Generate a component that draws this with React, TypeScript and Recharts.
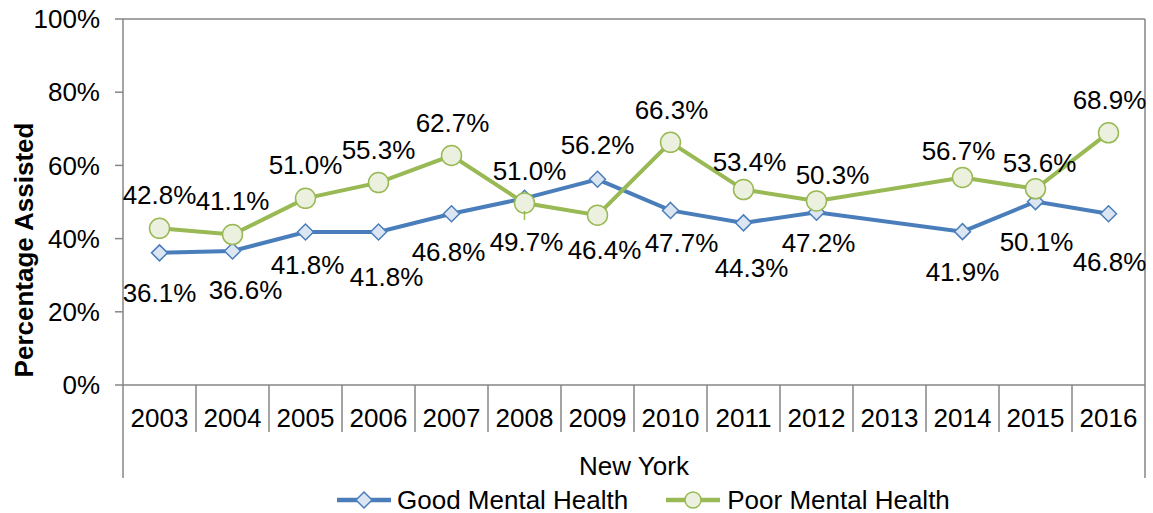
import React from "react";
import { Legend, LabelList, Line, LineChart, ReferenceLine, XAxis, YAxis } from "recharts";

const YEARS = ["2003", "2004", "2005", "2006", "2007", "2008", "2009", "2010", "2011", "2012", "2013", "2014", "2015", "2016"];
const GOOD = [36.1, 36.6, 41.8, 41.8, 46.8, 51.0, 56.2, 47.7, 44.3, 47.2, null, 41.9, 50.1, 46.8];
const POOR = [42.8, 41.1, 51.0, 55.3, 62.7, 49.7, 46.4, 66.3, 53.4, 50.3, null, 56.7, 53.6, 68.9];
const Y_TICKS = [0, 20, 40, 60, 80, 100];

// hand placed data labels (dx, dy from the point to the text middle)
const GOOD_LABEL_POS = [[0, 40], [13, 39], [2, 33], [8, 45], [-3, 38], [5, -27], [0, -34], [11, 33], [8, 45], [2, 31], [0, 0], [0, 40], [1, 40], [1, 48]];
const POOR_LABEL_POS = [[0, -33], [0, -34], [0, -33], [0, -33], [1, -33], [2, 39], [7, 35], [1, -32], [6, -28], [16, -26], [0, 0], [-4, -26], [4, -26], [1, -33]];
const POOR_LEADERS = ["2008"];

const data = YEARS.map((year, i) => ({ year, good: GOOD[i], poor: POOR[i] }));

const W = 1153;
const H = 513;
const PLOT_LEFT = 123;
const PLOT_RIGHT = 1145;
const PLOT_TOP = 19;
const PLOT_BOTTOM = 385;
const AXIS_BOTTOM = 478;
const BAND = (PLOT_RIGHT - PLOT_LEFT) / YEARS.length;

const FONT = "'Liberation Sans', Arial, sans-serif";
const AXIS = "#868686";
const BLUE = "#4A7EBB";
const BLUE_FILL = "#DCE6F2";
const GREEN = "#98B954";
const GREEN_FILL = "#EBF1DE";

function YearTick(props: any) {
  const { x, index, payload } = props;
  const left = x - BAND / 2;
  const right = x + BAND / 2;
  const last = index === YEARS.length - 1;
  return (
    <g>
      <line x1={left} x2={left} y1={PLOT_BOTTOM} y2={index === 0 ? AXIS_BOTTOM : PLOT_BOTTOM + 47} stroke={AXIS} strokeWidth={1.5} />
      {last && <line x1={right} x2={right} y1={PLOT_BOTTOM} y2={AXIS_BOTTOM} stroke={AXIS} strokeWidth={1.5} />}
      <text x={x} y={PLOT_BOTTOM + 42} textAnchor="middle" fontSize={26} fontFamily={FONT} fill="#000">
        {payload.value}
      </text>
    </g>
  );
}

function diamondDot(props: any) {
  const { cx, cy, index } = props;
  if (cx == null || cy == null) return <g key={`d${index}`} />;
  const r = 8;
  return (
    <polygon
      key={`d${index}`}
      points={`${cx},${cy - r} ${cx + r},${cy} ${cx},${cy + r} ${cx - r},${cy}`}
      fill={BLUE_FILL}
      stroke={BLUE}
      strokeWidth={1.5}
    />
  );
}

function circleDot(props: any) {
  const { cx, cy, index } = props;
  if (cx == null || cy == null) return <g key={`c${index}`} />;
  return <circle key={`c${index}`} cx={cx} cy={cy} r={10} fill={GREEN_FILL} stroke={GREEN} strokeWidth={1.5} />;
}

function makeLabel(pos: number[][], leaders: string[]) {
  return (props: any) => {
    const { x, y, value, index } = props;
    if (value == null || x == null || y == null) return null;
    const [dx, dy] = pos[index];
    const leader = leaders.includes(YEARS[index]);
    return (
      <g>
        {leader && <line x1={x} x2={x} y1={y + 8} y2={y + dy - 22} stroke={GREEN} strokeWidth={1.5} />}
        <text x={x + dx} y={y + dy + 9} textAnchor="middle" fontSize={26} fontFamily={FONT} fill="#000">
          {`${Number(value).toFixed(1)}%`}
        </text>
      </g>
    );
  };
}

function LegendIcon({ color, fill, shape }: { color: string; fill: string; shape: string }) {
  return (
    <svg width={54} height={20} style={{ display: "block" }}>
      <line x1={0} x2={54} y1={10} y2={10} stroke={color} strokeWidth={4.5} />
      {shape === "diamond" ? (
        <polygon points="27,2 35,10 27,18 19,10" fill={fill} stroke={color} strokeWidth={1.5} />
      ) : (
        <circle cx={27} cy={10} r={8} fill={fill} stroke={color} strokeWidth={1.5} />
      )}
    </svg>
  );
}

function LegendContent() {
  return (
    <div style={{ display: "flex", alignItems: "center", fontFamily: FONT, fontSize: 26, lineHeight: "30px", color: "#000", whiteSpace: "nowrap" }}>
      <LegendIcon color={BLUE} fill={BLUE_FILL} shape="diamond" />
      <span style={{ marginLeft: 6 }}>Good Mental Health</span>
      <span style={{ marginLeft: 38 }} />
      <LegendIcon color={GREEN} fill={GREEN_FILL} shape="circle" />
      <span style={{ marginLeft: 7 }}>Poor Mental Health</span>
    </div>
  );
}

export default function App() {
  return (
    <div style={{ position: "absolute", left: 0, top: 0, width: W, height: H, background: "#fff" }}>
      <LineChart
        width={W}
        height={H}
        data={data}
        margin={{ top: PLOT_TOP, right: 0, bottom: H - AXIS_BOTTOM, left: 23 }}
        style={{ fontFamily: FONT }}
      >
        <XAxis
          dataKey="year"
          scale="band"
          interval={0}
          height={AXIS_BOTTOM - PLOT_BOTTOM}
          axisLine={{ stroke: AXIS, strokeWidth: 1.5 }}
          tickLine={false}
          tick={<YearTick />}
          label={() => (
            <text x={(PLOT_LEFT + PLOT_RIGHT) / 2} y={475} textAnchor="middle" fontSize={26} fontFamily={FONT} fill="#000">
              New York
            </text>
          )}
        />
        <YAxis
          domain={[0, 100]}
          ticks={Y_TICKS}
          width={100}
          tickSize={8}
          tickMargin={15}
          tickFormatter={(v) => `${v}%`}
          tick={{ fontSize: 26, fill: "#000", fontFamily: FONT }}
          axisLine={{ stroke: AXIS, strokeWidth: 1.5 }}
          tickLine={{ stroke: AXIS, strokeWidth: 1.5 }}
          label={() => (
            <text x={33} y={250} transform="rotate(-90, 33, 250)" textAnchor="middle" fontSize={26} fontWeight="bold" fontFamily={FONT} fill="#000">
              Percentage Assisted
            </text>
          )}
        />
        <YAxis yAxisId="border" orientation="right" width={8} domain={[0, 100]} tick={false} tickLine={false} axisLine={{ stroke: AXIS, strokeWidth: 1.5 }} />
        <ReferenceLine y={100} stroke={AXIS} strokeWidth={1.5} />
        <Line
          dataKey="good"
          name="Good Mental Health"
          stroke={BLUE}
          strokeWidth={4}
          connectNulls
          dot={diamondDot}
          activeDot={false}
          isAnimationActive={false}
        >
          <LabelList dataKey="good" content={makeLabel(GOOD_LABEL_POS, [])} />
        </Line>
        <Line
          dataKey="poor"
          name="Poor Mental Health"
          stroke={GREEN}
          strokeWidth={4}
          connectNulls
          dot={circleDot}
          activeDot={false}
          isAnimationActive={false}
        >
          <LabelList dataKey="poor" content={makeLabel(POOR_LABEL_POS, POOR_LEADERS)} />
        </Line>
        <Legend
          layout="horizontal"
          verticalAlign="middle"
          align="center"
          content={<LegendContent />}
          wrapperStyle={{ top: 485, left: 337, width: 640, height: 30 }}
        />
      </LineChart>
    </div>
  );
}
